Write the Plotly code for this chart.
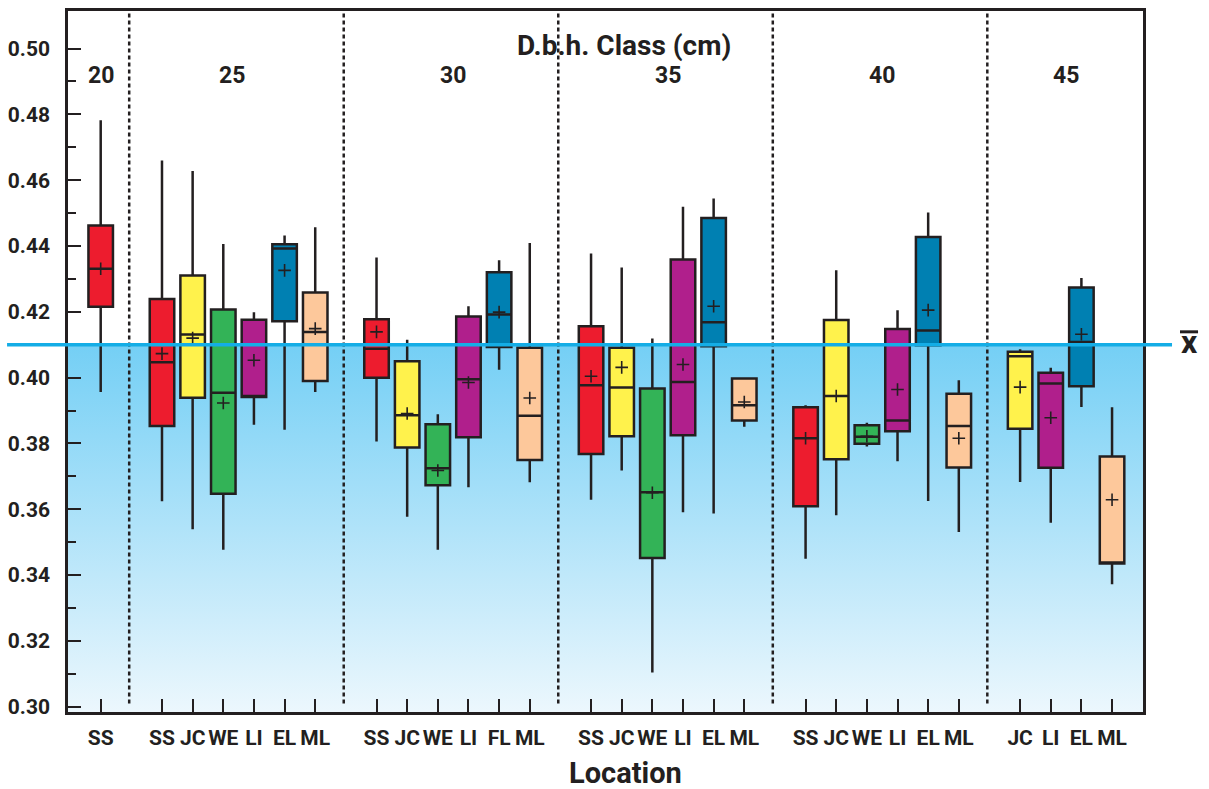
import base64
import plotly.graph_objects as go

# ---------------- data ----------------
groups = ["20", "25", "30", "35", "40", "45"]
group_locations = [
    ["SS"],
    ["SS", "JC", "WE", "LI", "EL", "ML"],
    ["SS", "JC", "WE", "LI", "FL", "ML"],
    ["SS", "JC", "WE", "LI", "EL", "ML"],
    ["SS", "JC", "WE", "LI", "EL", "ML"],
    ["JC", "LI", "EL", "ML"],
]
lower = [0.3956,
         0.3624, 0.3539, 0.3477, 0.3857, 0.3842, 0.3956,
         0.3806, 0.3577, 0.3477, 0.3667, 0.4024, 0.3682,
         0.3629, 0.3718, 0.3104, 0.3591, 0.3587, 0.3851,
         0.3450, 0.3582, 0.3791, 0.3746, 0.3625, 0.3531,
         0.3683, 0.3559, 0.3911, 0.3372]
q1 = [0.4215,
      0.3853, 0.3939, 0.3647, 0.3941, 0.4171, 0.3990,
      0.4000, 0.3788, 0.3673, 0.3819, 0.4093, 0.3750,
      0.3768, 0.3822, 0.3452, 0.3825, 0.4095, 0.3870,
      0.3609, 0.3752, 0.3799, 0.3837, 0.4098, 0.3727,
      0.3845, 0.3726, 0.3974, 0.3435]
median = [0.4331,
          0.4047, 0.4131, 0.3954, 0.3941, 0.4392, 0.4139,
          0.4088, 0.3886, 0.3725, 0.3995, 0.4192, 0.3884,
          0.3977, 0.3970, 0.3652, 0.3987, 0.4168, 0.3916,
          0.3816, 0.3944, 0.3820, 0.3870, 0.4143, 0.3853,
          0.4065, 0.3982, 0.4108, 0.3435]
q3 = [0.4462,
      0.4239, 0.4310, 0.4207, 0.4176, 0.4405, 0.4259,
      0.4177, 0.4050, 0.3858, 0.4186, 0.4320, 0.4091,
      0.4156, 0.4091, 0.3967, 0.4359, 0.4485, 0.3997,
      0.3910, 0.4175, 0.3855, 0.4148, 0.4427, 0.3951,
      0.4079, 0.4015, 0.4274, 0.3760]
upper = [0.4782,
         0.4660, 0.4628, 0.4406, 0.4199, 0.4432, 0.4457,
         0.4365, 0.4115, 0.3889, 0.4217, 0.4357, 0.4409,
         0.4377, 0.4335, 0.4119, 0.4519, 0.4544, 0.3997,
         0.3916, 0.4326, 0.3863, 0.4205, 0.4502, 0.3992,
         0.4086, 0.4030, 0.4303, 0.3910]
mean = [0.4331,
        0.4073, 0.4120, 0.3923, 0.4053, 0.4326, 0.4149,
        0.4139, 0.3891, 0.3718, 0.3985, 0.4199, 0.3938,
        0.4004, 0.4031, 0.3650, 0.4040, 0.4217, 0.3926,
        0.3816, 0.3944, 0.3822, 0.3964, 0.4205, 0.3816,
        0.3971, 0.3878, 0.4132, 0.3629]
grand_mean = 0.41

# ---------------- styles ----------------
colors = {"SS": "#ed1c2e", "JC": "#fff24c", "WE": "#33b357", "LI": "#b01f8c",
          "EL": "#0080b2", "FL": "#0080b2", "ML": "#fdc89b"}
DARK = "#231f20"
FONT = "Roboto, Liberation Sans, Arial, sans-serif"
X0, X1 = -0.067, 35.01
Y0, Y1 = 0.2984, 0.5114

# positions: one slot per location, one empty slot between classes
positions, labels, group_pos = [], [], []
start = 1
for g, locs in zip(groups, group_locations):
    ps = list(range(start, start + len(locs)))
    positions += ps
    labels += locs
    group_pos.append(ps)
    start = ps[-1] + 2

fig = go.Figure()

# gradient shading below the overall mean (svg image under the traces)
svg = ('<svg xmlns="http://www.w3.org/2000/svg" width="100" height="100" viewBox="0 0 100 100" '
       'preserveAspectRatio="none"><defs><linearGradient id="g" x1="0" y1="0" x2="0" y2="1">'
       '<stop offset="0" stop-color="#74cff5"/><stop offset="1" stop-color="#ecf7fd"/>'
       '</linearGradient></defs><rect width="100" height="100" fill="url(#g)"/></svg>')
src = "data:image/svg+xml;base64," + base64.b64encode(svg.encode()).decode()
fig.add_layout_image(source=src, xref="paper", yref="y", x=0, y=grand_mean,
                     sizex=1, sizey=grand_mean - Y0, sizing="stretch",
                     xanchor="left", yanchor="top", layer="below")

for i, (p, lab) in enumerate(zip(positions, labels)):
    fig.add_trace(go.Box(
        x=[p], q1=[q1[i]], median=[median[i]], q3=[q3[i]],
        lowerfence=[lower[i]], upperfence=[upper[i]],
        width=0.8, whiskerwidth=0, boxpoints=False,
        fillcolor=colors[lab], line=dict(color=DARK, width=2.5),
        hoverinfo="skip", showlegend=False))

fig.add_trace(go.Scatter(
    x=positions, y=mean, mode="markers",
    marker=dict(symbol="cross-thin", size=9, line=dict(color=DARK, width=1.6)),
    hoverinfo="skip", showlegend=False))

# vertical separators between diameter classes
for a, b in zip(group_pos[:-1], group_pos[1:]):
    xs = (a[-1] + b[0]) / 2 - 0.07
    fig.add_shape(type="line", xref="x", yref="paper", x0=xs, x1=xs, y0=0.012, y1=1,
                  line=dict(color=DARK, width=2.5, dash="4px,3px"))

# overall mean line
ym = (grand_mean - Y0) / (Y1 - Y0)
fig.add_shape(type="line", xref="paper", yref="paper", x0=-0.0567, x1=1.027, y0=ym, y1=ym,
              line=dict(color="#14ade6", width=3.5), layer="above")
fig.add_annotation(text="x", xref="paper", yref="paper", x=1.0428, y=ym + 0.004,
                   showarrow=False, font=dict(family=FONT, size=32, color=DARK, weight="bold"),
                   xanchor="center", yanchor="middle")
fig.add_shape(type="line", xref="paper", yref="paper", x0=1.0344, x1=1.0512,
              y0=ym + 0.0184, y1=ym + 0.0184, line=dict(color=DARK, width=3))

# class labels
for g, ps in zip(groups, group_pos):
    cx = (ps[0] + ps[-1]) / 2 if len(ps) > 1 else ps[0]
    if g == "25":
        cx -= 0.23
    fig.add_annotation(text=g, x=cx, xref="x", y=0.908, yref="paper", showarrow=False,
                       font=dict(family=FONT, size=23, color=DARK, weight="bold"),
                       xanchor="center", yanchor="middle")

fig.add_annotation(text="D.b.h. Class (cm)", x=18.07, xref="x", y=0.951, yref="paper",
                   showarrow=False, font=dict(family=FONT, size=28, color=DARK, weight="bold"),
                   xanchor="center", yanchor="middle")
fig.add_annotation(text="Location", x=18.14, xref="x", y=-0.0875, yref="paper",
                   showarrow=False, font=dict(family=FONT, size=29, color=DARK, weight="bold"),
                   xanchor="center", yanchor="middle")

fig.update_layout(
    template="none",
    width=1209, height=789,
    margin=dict(l=68, r=66, t=11, b=77, pad=0),
    paper_bgcolor="white", plot_bgcolor="rgba(0,0,0,0)",
    boxmode="overlay", showlegend=False,
    xaxis=dict(range=[X0, X1], tickmode="array", tickvals=positions, ticktext=labels,
               ticks="inside", ticklen=13, tickwidth=2, tickcolor=DARK, tickangle=0,
               showline=True, linewidth=2.5, linecolor=DARK, mirror=True, automargin=False,
               showgrid=False, zeroline=False, ticklabelstandoff=5,
               tickfont=dict(family=FONT, size=21, color=DARK, weight="bold")),
    yaxis=dict(range=[Y0, Y1], tickmode="linear", tick0=0.30, dtick=0.02, tickformat=".2f",
               ticks="inside", ticklen=13, tickwidth=2, tickcolor=DARK, automargin=False,
               minor=dict(tickmode="array", tickvals=[0.31 + 0.02 * k for k in range(10)],
                          ticks="inside", ticklen=8, tickwidth=2, tickcolor=DARK,
                          showgrid=False),
               showline=True, linewidth=2.5, linecolor=DARK, mirror=True,
               showgrid=False, zeroline=False, ticklabelstandoff=11,
               tickfont=dict(family=FONT, size=21, color=DARK, weight="bold")),
)

fig.write_html("out.html", config={"displayModeBar": False},
               post_script="document.body.style.margin='0';document.body.style.overflow='hidden';")
